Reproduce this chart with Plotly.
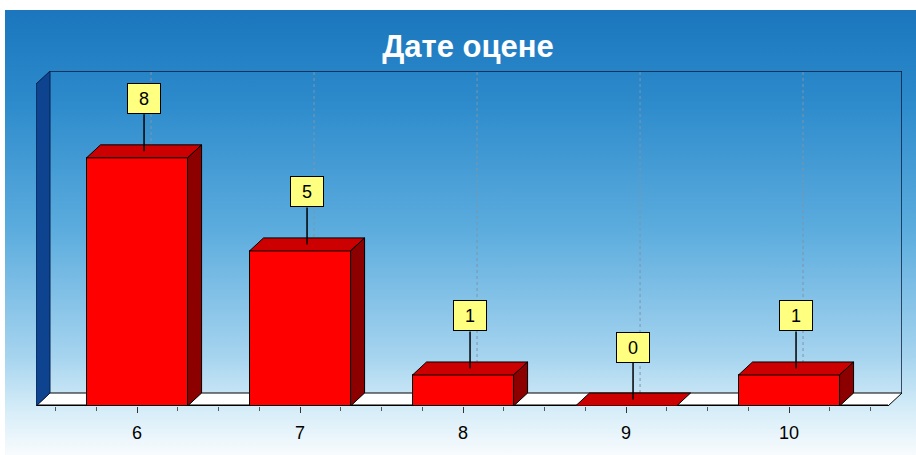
import base64
import plotly.graph_objects as go

# data
grades = [6, 7, 8, 9, 10]
counts = [8, 5, 1, 0, 1]
tick_labels = ["6", "7", "8", "9", "10"]
title_text = "Дате оцене"

W, H = 916, 455
M_L, M_R, M_T, M_B = 36, 14, 71, 49
X_RANGE = [5.38, 10.693]
Y_RANGE = [0, 10.8]
BAR_W = 0.62

plot_w = W - M_L - M_R
plot_h = H - M_T - M_B
ux = plot_w / (X_RANGE[1] - X_RANGE[0])
uy = plot_h / (Y_RANGE[1] - Y_RANGE[0])
DX = 14 / ux          # 3d depth, x
DY = 13 / uy          # 3d depth, y
LEAD = 37 / uy        # label leader length

x0, x1 = X_RANGE
ytop = Y_RANGE[1]

# background gradient as svg
svg = f"""<svg xmlns='http://www.w3.org/2000/svg' width='{W}' height='{H}'>
<defs><linearGradient id='g' x1='0' y1='0' x2='0' y2='1'>
<stop offset='0' stop-color='#1b76bd'/>
<stop offset='0.2' stop-color='#2c8acb'/>
<stop offset='0.5' stop-color='#5dadde'/>
<stop offset='0.78' stop-color='#a6d4ef'/>
<stop offset='0.9' stop-color='#d6edf8'/>
<stop offset='1' stop-color='#f8fbfd'/>
</linearGradient></defs>
<rect width='{W}' height='{H}' fill='white'/>
<rect x='5' y='10' width='{W-5}' height='{H-10}' fill='url(#g)'/>
</svg>"""
bg_src = "data:image/svg+xml;base64," + base64.b64encode(svg.encode()).decode()

fig = go.Figure()

# front faces
fig.add_trace(go.Bar(
    x=grades, y=counts, width=BAR_W,
    marker=dict(color="#ff0000", line=dict(color="black", width=1)),
    hoverinfo="skip",
))

# top and side faces
for g, v in zip(grades, counts):
    a, b = g - BAR_W / 2, g + BAR_W / 2
    fig.add_trace(go.Scatter(
        x=[a, b, b + DX, a + DX, a], y=[v, v, v + DY, v + DY, v],
        mode="lines", fill="toself", fillcolor="#cc0000",
        line=dict(color="black", width=1), hoverinfo="skip",
    ))
    if v > 0:
        fig.add_trace(go.Scatter(
            x=[b, b + DX, b + DX, b, b], y=[0, DY, v + DY, v, 0],
            mode="lines", fill="toself", fillcolor="#8c0000",
            line=dict(color="black", width=1), hoverinfo="skip",
        ))

# label leaders
lx, ly = [], []
for g, v in zip(grades, counts):
    cx = g + DX / 2
    lx += [cx, cx, None]
    ly += [v + DY / 2, v + DY / 2 + LEAD, None]
fig.add_trace(go.Scatter(x=lx, y=ly, mode="lines",
                         line=dict(color="black", width=1.5), hoverinfo="skip"))

annotations = []
for g, v in zip(grades, counts):
    annotations.append(dict(
        x=g + DX / 2, y=v + DY / 2 + LEAD, xref="x", yref="y",
        text=str(v), showarrow=False, yanchor="bottom", xanchor="center",
        bgcolor="#ffff80", bordercolor="black", borderwidth=1, borderpad=0,
        width=32, height=29,
        font=dict(family="Liberation Sans, Arial", size=18, color="black"),
    ))

shapes = []
# back wall grid lines
for g in grades:
    shapes.append(dict(type="line", xref="x", yref="y", x0=g + DX, x1=g + DX,
                       y0=DY, y1=ytop, layer="below",
                       line=dict(color="#7f95a8", width=1, dash="dot")))
# back wall border
shapes.append(dict(type="path", xref="x", yref="y", layer="below",
                   path=f"M{x0 + DX},{ytop} L{x1},{ytop} L{x1},{DY}",
                   line=dict(color="#0b1a3a", width=1.5)))
# floor
xf = x1 - DX
shapes.append(dict(type="path", xref="x", yref="y", layer="below",
                   path=f"M{x0},0 L{xf},0 L{x1},{DY} L{x0 + DX},{DY} Z",
                   fillcolor="white", line=dict(color="black", width=1)))
shapes.append(dict(type="line", xref="x", yref="y", layer="below",
                   x0=x0, x1=xf, y0=0, y1=0,
                   line=dict(color="black", width=3)))
# left wall
shapes.append(dict(type="path", xref="x", yref="y", layer="below",
                   path=f"M{x0},0 L{x0},{ytop - DY} L{x0 + DX},{ytop} L{x0 + DX},{DY} Z",
                   fillcolor="#0d438f", line=dict(color="#07204a", width=1)))

fig.update_layout(
    width=W, height=H,
    margin=dict(l=M_L, r=M_R, t=M_T, b=M_B),
    paper_bgcolor="white", plot_bgcolor="rgba(0,0,0,0)",
    showlegend=False,
    title=dict(text=f"<b>{title_text}</b>", x=468 / W, xanchor="center",
               y=1 - 46 / H, yanchor="middle",
               font=dict(family="Liberation Sans, Arial", size=31, color="white")),
    images=[dict(source=bg_src, xref="paper", yref="paper",
                 x=-M_L / plot_w, y=1 + M_T / plot_h,
                 sizex=W / plot_w, sizey=H / plot_h,
                 xanchor="left", yanchor="top", sizing="stretch", layer="below")],
    shapes=shapes,
    annotations=annotations,
    xaxis=dict(range=X_RANGE, tickvals=grades, ticktext=tick_labels,
               ticks="outside", ticklen=6, tickcolor="#333333",
               minor=dict(dtick=0.25, tick0=6, ticks="outside", ticklen=4,
                          tickcolor="#555555", showgrid=False),
               showgrid=False, zeroline=False, showline=False,
               ticklabelstandoff=4,
               tickfont=dict(family="Liberation Sans, Arial", size=18, color="black"),
               fixedrange=True),
    yaxis=dict(range=Y_RANGE, showticklabels=False, showgrid=False,
               zeroline=False, showline=False, fixedrange=True),
    bargap=0,
)

# page without the default body margin, no modebar
fig.write_html("out.html", config={"displayModeBar": False},
               post_script="document.body.style.margin='0';")
